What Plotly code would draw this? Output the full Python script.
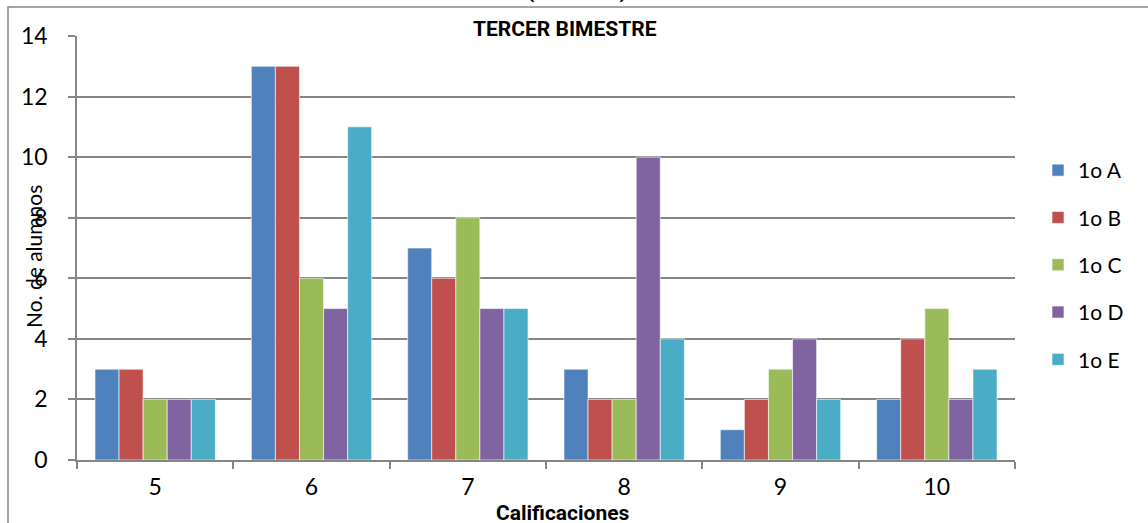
import plotly.graph_objects as go

categories = ["5", "6", "7", "8", "9", "10"]
series_names = ["1o A", "1o B", "1o C", "1o D", "1o E"]
s_a = [3, 13, 7, 3, 1, 2]
s_b = [3, 13, 6, 2, 2, 4]
s_c = [2, 6, 8, 2, 3, 5]
s_d = [2, 5, 5, 10, 4, 2]
s_e = [2, 11, 5, 4, 2, 3]
series_values = [s_a, s_b, s_c, s_d, s_e]
colors = ["#4F81BD", "#C0504D", "#9BBB59", "#8064A2", "#4BACC6"]
y_ticks = [0, 2, 4, 6, 8, 10, 12, 14]

fig = go.Figure()
for i, (name, vals) in enumerate(zip(series_names, series_values)):
    fig.add_trace(go.Bar(
        x=categories, y=vals, name=name, legendgroup=name,
        marker=dict(color=colors[i], line=dict(color="rgba(255,255,255,0.6)", width=1)),
    ))

FONT = "Lato"
W, H = 1148, 523
L, R, T, B = 77, 1015, 36, 460
PW, PH = R - L, B - T

def px(x):
    return (x - L) / PW

def py(y):
    return (B - y) / PH

fig.update_layout(
    width=W, height=H,
    margin=dict(l=L, r=W - R, t=T, b=H - B, autoexpand=False),
    paper_bgcolor="white", plot_bgcolor="white",
    barmode="group", bargap=0.23, bargroupgap=0,
    showlegend=True,
    legend=dict(x=px(1038), xanchor="left", y=py(150), yanchor="top",
                font=dict(family=FONT, size=21, color="black"),
                tracegroupgap=17, itemwidth=30, traceorder="grouped"),
    font=dict(family=FONT, color="black"),
)
fig.update_xaxes(
    type="category", showline=True, linecolor="#868686", linewidth=1.5,
    ticks="outside", ticklen=7, tickcolor="#868686", tickwidth=1.5,
    tickson="boundaries", showgrid=False,
    tickfont=dict(family=FONT, size=23, color="black"), ticklabelstandoff=6,
)
fig.update_yaxes(
    range=[0, 14], tickvals=y_ticks, showline=True, linecolor="#868686", linewidth=1.5,
    ticks="outside", ticklen=7, tickcolor="#868686", tickwidth=1.5,
    showgrid=True, gridcolor="#868686", gridwidth=1.5, zeroline=False,
    tickfont=dict(family=FONT, size=23, color="black"), ticklabelstandoff=16,
)

# outer frame
fig.add_shape(type="rect", xref="paper", yref="paper",
              x0=px(8), x1=px(1160), y0=py(540), y1=py(7),
              line=dict(color="#868686", width=1.5), fillcolor="rgba(0,0,0,0)", layer="below")

NARROW = "Roboto"
fig.add_annotation(text="<b>(Gráfica 6)</b>", xref="paper", yref="paper",
                   x=px(577), y=py(-9), showarrow=False, xanchor="center", yanchor="middle",
                   font=dict(family=NARROW, size=21, color="black"))
fig.add_annotation(text="<b>TERCER BIMESTRE</b>", xref="paper", yref="paper",
                   x=px(565), y=py(29), showarrow=False, xanchor="center", yanchor="middle",
                   font=dict(family=NARROW, size=21, color="black"))
fig.add_annotation(text="<b>Calificaciones</b>", xref="paper", yref="paper",
                   x=px(563), y=py(513), showarrow=False, xanchor="center", yanchor="middle",
                   font=dict(family=NARROW, size=21, color="black"))
fig.add_annotation(text="No. de alumnos", xref="paper", yref="paper",
                   x=px(33), y=py(257), showarrow=False, textangle=-90,
                   xanchor="center", yanchor="middle",
                   font=dict(family=FONT, size=21, color="black"))

fig.write_html("out.html", config={"displayModeBar": False},
               post_script="document.body.style.margin='0';document.body.style.overflow='hidden';")
